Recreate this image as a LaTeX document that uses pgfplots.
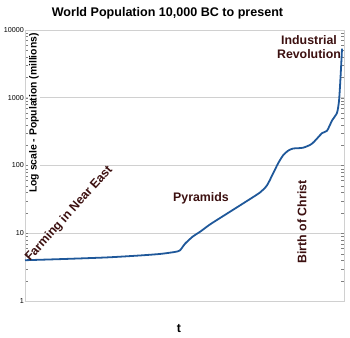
\documentclass[border=0pt]{standalone}
\usepackage{fontspec}
\setmainfont{Liberation Sans}
\usepackage{pgfplots}
\pgfplotsset{compat=1.18}
\definecolor{curve}{RGB}{31,88,154}
\definecolor{annot}{RGB}{60,16,16}
\definecolor{gridc}{RGB}{208,208,208}
\begin{document}
\begin{tikzpicture}
\path[use as bounding box] (-25bp,-37bp) rectangle (325bp,301bp);
\begin{axis}[
  scale only axis,
  width=319bp, height=271bp,
  at={(0,0)}, anchor=south west,
  ymode=log, ymin=1, ymax=10000,
  xmin=-10000, xmax=2000,
  xtick=\empty,
  ytick={1,10,100,1000,10000},
  yticklabels={1,10,100,1000,10000},
  yticklabel style={font=\fontsize{7.2}{8}\selectfont, inner sep=1bp},
  log ticks with fixed point,
  major tick length=0pt,
  ymajorgrids,
  grid style={gridc, line width=0.9pt},
  axis line style={gridc, line width=0.9pt},
  clip=false,
]
\addplot[curve, line width=1.8pt, smooth, tension=0.4] coordinates {
(-10000,4.0) (-8683,4.15) (-6915,4.4) (-5674,4.7) (-4921,4.95) (-4357,5.3)
(-4169,5.6) (-3981,7.0) (-3680,9.0) (-3416,10.5) (-3040,13.5) (-2400,19.5)
(-1799,27.5) (-1159,40) (-896,51) (-670,76) (-482,107) (-294,141) (-106,165)
(82,178) (458,183) (797,210) (1173,300) (1361,326) (1549,460) (1737,600)
(1813,905) (1869,2000) (1926,5300)
};
\end{axis}
\node[font=\bfseries\fontsize{12.6}{14}\selectfont] at (142.5bp,288bp) {World Population 10,000 BC to present};
\node[font=\bfseries\fontsize{10.4}{12}\selectfont, rotate=90, fill=white, inner sep=1bp] at (9bp,188bp) {Log scale - Population (millions)};
\node[font=\bfseries\fontsize{12.4}{14}\selectfont, text=annot, rotate=48, anchor=base west, inner sep=0pt] at (5bp,39bp) {Farming in Near East};
\node[font=\bfseries\fontsize{12.4}{14}\selectfont, text=annot] at (176bp,103bp) {Pyramids};
\node[font=\bfseries\fontsize{12.4}{14}\selectfont, text=annot, rotate=90] at (277bp,79bp) {Birth of Christ};
\node[font=\bfseries\fontsize{12.4}{14.5}\selectfont, text=annot, align=center] at (284bp,254bp) {Industrial\\Revolution};
\node[font=\bfseries\fontsize{12.4}{14}\selectfont] at (154bp,-28bp) {t};
\end{tikzpicture}
\end{document}
